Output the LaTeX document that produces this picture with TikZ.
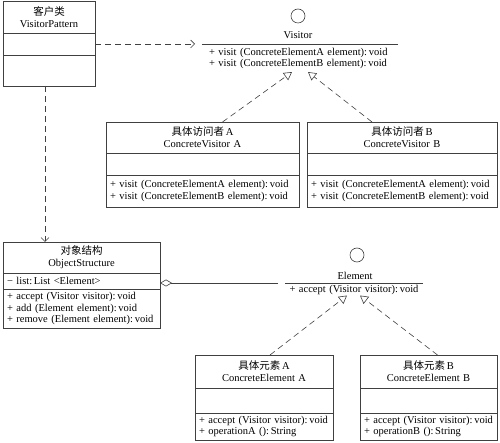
\documentclass[tikz,border=0pt]{standalone}
\usepackage{fontspec}
\setmainfont{Liberation Serif}
\newfontfamily\cjk{Noto Sans CJK SC}
\usetikzlibrary{calc,arrows.meta,positioning}

% one UML class: name, top-left, width, heights of the three parts, texts
\newcommand{\umlclass}[9]{%
  \node[headbox, minimum width=#3pt, text width=\dimexpr#3pt-8pt\relax, minimum height=#4pt, anchor=north west] (#1) at #2 {#7};
  \node[bodybox, minimum width=#3pt, text width=\dimexpr#3pt-8pt\relax, minimum height=#5pt, anchor=north west] (#1-a) at (#1.south west) {#8};
  \node[bodybox, minimum width=#3pt, text width=\dimexpr#3pt-8pt\relax, minimum height=#6pt, anchor=north west] (#1-o) at (#1-a.south west) {#9};
}

\tikzset{
  uml/.style={draw=black!75, line width=0.6pt, inner xsep=4pt, inner ysep=0pt, outer sep=0pt},
  headbox/.style={uml, align=center, font=\fontsize{10.5}{12}\selectfont},
  bodybox/.style={uml, align=left, font=\fontsize{10.5}{11.5}\selectfont},
  ball/.style={circle, draw=black!75, line width=0.6pt, minimum size=14pt, inner sep=0pt},
  link/.style={draw=black!75, line width=0.6pt},
  dep/.style={link, dash pattern=on 6pt off 4pt, -{Straight Barb[length=4pt, width=8pt]}},
  realize/.style={link, dash pattern=on 6pt off 4pt, -{Triangle[open, length=8pt, width=9pt]}},
  aggr/.style={link, {Diamond[open, length=12pt, width=7pt]}-},
}

\begin{document}
\begin{tikzpicture}[x=1pt, y=-1pt]
  \useasboundingbox (0,0) rectangle (500,443);

  %%%%% classes %%%%%
  \umlclass{vp}{(3,1)}{92}{32}{22}{31}{{\cjk 客户类}\\VisitorPattern}{}{}

  \umlclass{cva}{(106,122)}{193}{31}{22}{32}{{\cjk 具体访问者}\,A\\ConcreteVisitor A}{}%
    {+ visit (ConcreteElementA element):\,void\\+ visit (ConcreteElementB element):\,void}
  \umlclass{cvb}{(307,122)}{190}{31}{22}{32}{{\cjk 具体访问者}\,B\\ConcreteVisitor B}{}%
    {+ visit (ConcreteElementA element):\,void\\+ visit (ConcreteElementB element):\,void}

  \umlclass{os}{(3,242)}{157}{31}{16}{39}{{\cjk 对象结构}\\ObjectStructure}%
    {− list:\,List <Element>}%
    {+ accept (Visitor visitor):\,void\\+ add (Element element):\,void\\+ remove (Element element):\,void}

  \umlclass{cea}{(195,355)}{138}{33}{25}{27}{{\cjk 具体元素}\,A\\ConcreteElement A}{}%
    {+ accept (Visitor visitor):\,void\\+ operationA ():\,String}
  \umlclass{ceb}{(360,355)}{137}{33}{25}{27}{{\cjk 具体元素}\,B\\ConcreteElement B}{}%
    {+ accept (Visitor visitor):\,void\\+ operationB ():\,String}

  %%%%% interfaces %%%%%
  \node[ball] (visitorball) at (298,16) {};
  \node[font=\fontsize{10.5}{12}\selectfont] (visitor) at (298,35) {Visitor};
  \node[bodybox, draw=none, text width=182pt, inner xsep=7pt, inner ysep=4pt, anchor=north] (visitorops) at (300,44)
    {+ visit (ConcreteElementA element):\,void\\+ visit (ConcreteElementB element):\,void};
  \draw[link] (visitorops.north west) -- (visitorops.north east);

  \node[ball] (elementball) at (357,255) {};
  \node[font=\fontsize{10.5}{12}\selectfont] (element) at (355,276) {Element};
  \node[bodybox, draw=none, text width=138pt, inner xsep=0pt, inner ysep=2.5pt, align=center, anchor=north] (elementops) at (354,283)
    {+ accept (Visitor visitor):\,void};
  \draw[link] (elementops.north west) -- (elementops.north east);

  %%%%% relations %%%%%
  \draw[dep] (vp-a.east) -- ($(visitorops.north west)+(-7,0)$);
  \draw[dep] (vp-o.south -| 45,0) -- (os.north -| 45,0);

  \draw[realize] ($(cva.north)+(20,0)$) -- ($(visitorops.south)+(-8,-1)$);
  \draw[realize] ($(cvb.north)+(-30,0)$) -- ($(visitorops.south)+(8,-1)$);

  \coordinate (aggend) at ($(elementops.north west)+(-7,0)$);
  \draw[aggr] (os-a.east |- aggend) -- (aggend);

  \draw[realize] ($(cea.north)+(6,0)$) -- ($(elementops.south)+(-7,-2)$);
  \draw[realize] ($(ceb.north)+(9,0)$) -- ($(elementops.south)+(6,-2)$);
\end{tikzpicture}
\end{document}
